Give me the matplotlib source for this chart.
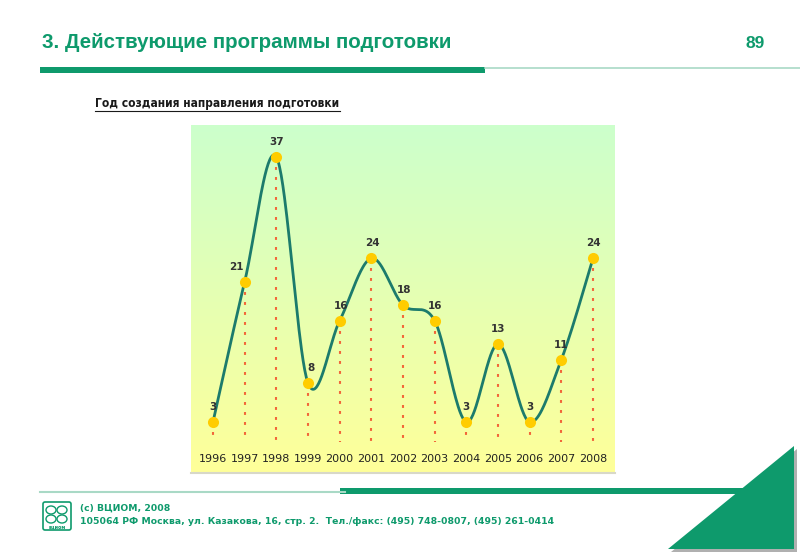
import numpy as np
import matplotlib
matplotlib.use("Agg")
import matplotlib.pyplot as plt
from matplotlib.patches import Polygon, FancyBboxPatch, Rectangle, Ellipse

# ---- data ----
years = [1996, 1997, 1998, 1999, 2000, 2001, 2002, 2003, 2004, 2005, 2006, 2007, 2008]
values = [3, 21, 37, 8, 16, 24, 18, 16, 3, 13, 3, 11, 24]
label_dx = [0, -8, 0, 3, 1, 1, 1, 0, 0, 0, 0, 0, 0]  # px offsets of value labels

title = "3. Действующие программы подготовки"
page_no = "89"
subtitle = "Год создания направления подготовки"
footer1 = "(с) ВЦИОМ, 2008"
footer2 = "105064 РФ Москва, ул. Казакова, 16, стр. 2.  Тел./факс: (495) 748-0807, (495) 261-0414"

GREEN = "#0e9a6c"
LIGHT = "#a9d9c6"

W, H = 800, 554
fig = plt.figure(figsize=(W / 100, H / 100), dpi=100)
fig.patch.set_facecolor("white")

# ---- page decoration axes in pixel coordinates ----
bg = fig.add_axes([0, 0, 1, 1])
bg.set_xlim(0, W)
bg.set_ylim(H, 0)
bg.axis("off")

bg.text(42, 43, title, fontsize=14.8, fontweight="bold", color=GREEN,
        family="Liberation Sans", va="center", ha="left")
bg.text(765, 43, page_no, fontsize=12.5, fontweight="bold", color=GREEN,
        family="Liberation Sans", va="center", ha="right")
# top rule
bg.add_patch(Rectangle((40, 66.5), 445, 6, color=GREEN, lw=0))
bg.plot([485, 800], [68, 68], color=LIGHT, lw=1.2)

# subtitle
bg.text(95, 104, subtitle, fontsize=8.6, fontweight="bold", color="#1a1a1a",
        family="DejaVu Sans", va="center", ha="left", stretch="condensed")
bg.plot([95, 340], [111, 111], color="#1a1a1a", lw=0.8)

# bottom rule
bg.plot([40, 345], [492, 492], color=LIGHT, lw=1.5)
bg.add_patch(Rectangle((340, 488), 410, 6, color=GREEN, lw=0))
# triangle with shadow
bg.add_patch(Polygon([[797, 449], [797, 552], [671, 552]], closed=True, color="#b0b0b0", lw=0))
bg.add_patch(Polygon([[794, 446], [794, 549], [668, 549]], closed=True, color=GREEN, lw=0))

# logo
bg.add_patch(FancyBboxPatch((43, 502), 28, 28, boxstyle="round,pad=0,rounding_size=2",
                            fc="white", ec=GREEN, lw=1.2))
for (cx, cy) in [(51, 510), (62, 510), (51, 519), (62, 519)]:
    bg.add_patch(Ellipse((cx, cy), 10, 8, fc="none", ec=GREEN, lw=1.0))
bg.text(57, 527, "вциом", fontsize=3.5, fontweight="bold", color=GREEN,
        ha="center", va="center")

bg.text(80, 508, footer1, fontsize=6.7, fontweight="bold", color=GREEN,
        family="DejaVu Sans", va="center", ha="left")
bg.text(80, 522, footer2, fontsize=6.7, fontweight="bold", color=GREEN,
        family="DejaVu Sans", va="center", ha="left")

# ---- chart axes ----
L, T, R, B = 191, 125, 615, 473
ax = fig.add_axes([L / W, 1 - B / H, (R - L) / W, (B - T) / H])
px_yr = (593 - 213) / 12.0
px_val = (422 - 157) / 34.0
x0 = 1996 - (213 - L) / px_yr
x1 = 2008 + (R - 593) / px_yr
y1 = 3 + (422 - T) / px_val
y0 = 3 - (B - 422) / px_val
ax.set_xlim(x0, x1)
ax.set_ylim(y0, y1)
ax.axis("off")

# gradient background
grad = np.linspace(0, 1, 256).reshape(-1, 1)
top = np.array([0.80, 1.00, 0.80])
bot = np.array([1.00, 1.00, 0.60])
img = bot[None, None, :] * (1 - grad[:, :, None]) + top[None, None, :] * grad[:, :, None]
ax.imshow(img, extent=[x0, x1, y0, y1], origin="lower", aspect="auto", zorder=0)
ax.plot([x0, x1], [y0, y0], color="#d8d8c8", lw=1.5, zorder=1, clip_on=False)

# dotted drop lines
for x, v in zip(years, values):
    ax.plot([x, x], [v, 0.4], color="#f2683a", lw=1.5,
            linestyle=(0, (1.4, 3.4)), zorder=2)

# smooth curve (Bezier with Catmull-Rom style control points, like Excel smoothing)
xs = np.array(years, dtype=float)
ys = np.array(values, dtype=float)
P = np.column_stack([xs, ys])
Pext = np.vstack([P[0], P, P[-1]])
curve = []
t = np.linspace(0, 1, 40)[:, None]
for i in range(len(P) - 1):
    p0, p1, p2, p3 = Pext[i], Pext[i + 1], Pext[i + 2], Pext[i + 3]
    c1 = p1 + (p2 - p0) / 6.0
    c2 = p2 - (p3 - p1) / 6.0
    seg = ((1 - t) ** 3) * p1 + 3 * ((1 - t) ** 2) * t * c1 + 3 * (1 - t) * t ** 2 * c2 + t ** 3 * p2
    curve.append(seg)
curve = np.vstack(curve)
ax.plot(curve[:, 0], curve[:, 1], color="#1c7b6c", lw=2.0, zorder=3,
        solid_capstyle="round")
ax.plot(xs, ys, "o", color="#ffcc00", markersize=8, markeredgewidth=0, zorder=4)

for x, v, dx in zip(years, values, label_dx):
    ax.annotate(str(v), (x, v), xytext=(dx * 0.72, 15 * 0.72), textcoords="offset points",
                ha="center", va="center", fontsize=7.5, fontweight="bold",
                color="#333333", zorder=5)

for x in years:
    ax.text(x, 3 - (459 - 422) / px_val, str(x), ha="center", va="center",
            fontsize=8, color="#222222", zorder=5)

fig.savefig("out.png", dpi=100)
